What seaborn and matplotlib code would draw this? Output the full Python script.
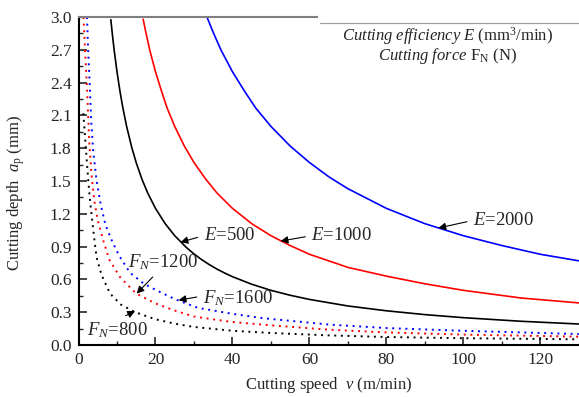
import pandas as pd
import matplotlib.pyplot as plt
import seaborn as sns

# E curves (solid): cutting speed v (m/min) vs cutting depth ap (mm)
v_e500 = [8.4, 8.8, 9.3, 10, 10.8, 11.5, 12.5, 13.8, 15, 16.5, 18, 20, 22.5, 25, 28, 30, 32, 34, 36, 38, 40, 45, 50, 55, 60, 70, 80, 90, 100, 115, 130]
ap_e500 = [2.976, 2.841, 2.688, 2.5, 2.315, 2.174, 2.0, 1.812, 1.667, 1.515, 1.389, 1.25, 1.111, 1.0, 0.893, 0.833, 0.781, 0.735, 0.694, 0.658, 0.625, 0.556, 0.50, 0.455, 0.417, 0.357, 0.313, 0.278, 0.25, 0.217, 0.192]

v_e1000 = [16.8, 17.5, 18.5, 20, 21.5, 23, 25, 27.5, 30, 33, 36, 40, 45, 50, 55, 60, 70, 80, 90, 100, 115, 130]
ap_e1000 = [2.98, 2.86, 2.70, 2.5, 2.33, 2.17, 2.0, 1.82, 1.67, 1.52, 1.39, 1.25, 1.11, 1.0, 0.91, 0.83, 0.71, 0.63, 0.56, 0.50, 0.43, 0.385]

v_e2000 = [33.5, 35, 37, 40, 43, 46, 50, 55, 60, 65, 70, 80, 90, 100, 110, 120, 130]
ap_e2000 = [2.99, 2.86, 2.70, 2.5, 2.33, 2.17, 2.0, 1.82, 1.67, 1.54, 1.43, 1.25, 1.11, 1.0, 0.91, 0.83, 0.77]

# F_N curves (dotted)
v_f800 = [1.25, 1.6, 1.95, 2.5, 3.0, 4, 4.7, 6, 8.2, 11, 14.7, 20, 25, 30, 40, 50, 65, 80, 100, 130]
ap_f800 = [2.12, 1.95, 1.78, 1.52, 1.32, 1.0, 0.8, 0.64, 0.47, 0.37, 0.30, 0.235, 0.195, 0.165, 0.13, 0.11, 0.088, 0.073, 0.062, 0.052]

v_f1200 = [1.3, 1.7, 2.2, 2.8, 3.4, 4.1, 5, 6.4, 8, 10.8, 15, 20, 25, 30, 40, 50, 65, 80, 100, 130]
ap_f1200 = [3.0, 2.7, 2.35, 1.85, 1.55, 1.32, 1.14, 0.96, 0.78, 0.62, 0.47, 0.38, 0.315, 0.26, 0.21, 0.18, 0.14, 0.115, 0.095, 0.076]

v_f1600 = [2.2, 2.5, 2.9, 3.3, 3.8, 4.7, 5.8, 7, 8.6, 10.5, 13.4, 17, 20.3, 25, 31, 40, 48, 65, 80, 100, 130]
ap_f1600 = [3.0, 2.7, 2.4, 2.05, 1.78, 1.5, 1.28, 1.1, 0.96, 0.82, 0.66, 0.56, 0.50, 0.42, 0.34, 0.285, 0.245, 0.187, 0.155, 0.13, 0.10]

sns.set_style("ticks")
plt.rcParams['font.family'] = ['Liberation Serif', 'DejaVu Serif']
plt.rcParams['mathtext.fontset'] = 'custom'
plt.rcParams['mathtext.rm'] = 'Liberation Serif'
plt.rcParams['mathtext.it'] = 'Liberation Serif:italic'

fig = plt.figure(figsize=(5.79, 3.97), dpi=100)
ax = fig.add_axes([0.1356, 0.131, 0.864, 0.826])

dot = (0, (1, 2.4))
curves = [
    (v_e500, ap_e500, 'black', '-'),
    (v_e1000, ap_e1000, 'red', '-'),
    (v_e2000, ap_e2000, 'blue', '-'),
    (v_f800, ap_f800, 'black', dot),
    (v_f1200, ap_f1200, 'red', dot),
    (v_f1600, ap_f1600, 'blue', dot),
]
for v, ap, c, ls in curves:
    df = pd.DataFrame({'v': v, 'ap': ap})
    sns.lineplot(data=df, x='v', y='ap', ax=ax, color=c, linestyle=ls,
                 linewidth=1.2 if ls == '-' else 1.4, sort=False)

ax.set_xlim(0, 130)
ax.set_ylim(0, 3.0)
ax.set_xticks([0, 20, 40, 60, 80, 100, 120])
ax.set_xticks(range(10, 130, 20), minor=True)
ax.set_yticks([i * 0.3 for i in range(11)])
ax.set_yticklabels([f"{i * 0.3:.1f}" for i in range(11)])
ax.set_yticks([0.15 + i * 0.3 for i in range(10)], minor=True)
ax.tick_params(which='major', direction='in', length=6, width=1.2, labelsize=12.5, pad=5)
ax.tick_params(which='minor', direction='in', length=3, width=1.0)
ax.tick_params(axis='y', right=False)
ax.tick_params(axis='x', top=False)

for s in ['left', 'bottom']:
    ax.spines[s].set_linewidth(1.5)
    ax.spines[s].set_color('black')
ax.spines['right'].set_visible(False)
ax.spines['top'].set_color('#808080')
ax.spines['top'].set_linewidth(1.5)
ax.spines['top'].set_bounds(0, 62)

ax.set_xlabel("Cutting speed  $v$ (m/min)", fontsize=12)
ax.set_ylabel("Cutting depth  $a_{\\mathrm{p}}$ (mm)", fontsize=12)
ax.xaxis.set_label_coords(0.5, -0.09)
ax.yaxis.set_label_coords(-0.103, 0.463)

# legend-like header box
ax.plot([0.483, 1.0], [0.982, 0.982], transform=ax.transAxes, color='#a0a0a0', lw=0.9, clip_on=False)
ax.text(0.737, 0.943, "$\\mathit{Cutting\\ efficiency\\ E}$ (mm$^3$/min)", transform=ax.transAxes,
        ha='center', va='center', fontsize=12)
ax.text(0.737, 0.880, "$\\mathit{Cutting\\ force}$ F$_{\\mathrm{N}}$ (N)", transform=ax.transAxes,
        ha='center', va='center', fontsize=12)

arrow = dict(arrowstyle='-|>', color='black', lw=0.8, mutation_scale=11, shrinkA=2, shrinkB=0)
labels = [
    ("$E$=500", (26.5, 0.94), (32.5, 1.0), (0, 0.5)),
    ("$E$=1000", (52.5, 0.95), (60.5, 1.0), (0, 0.5)),
    ("$E$=2000", (93.5, 1.07), (102.5, 1.14), (0, 0.5)),
    ("$F_N$=1200", (15.1, 0.47), (12.9, 0.76), (0.45, 0.1)),
    ("$F_N$=1600", (26.0, 0.41), (32.3, 0.43), (0, 0.6)),
    ("$F_N$=800", (14.7, 0.31), (2.2, 0.137), (0.42, 0.9)),
]
for txt, tip, pos, rel in labels:
    a = dict(arrow)
    a['relpos'] = rel
    ax.annotate(txt, xy=tip, xytext=pos, ha='left', va='center', fontsize=13.5,
                arrowprops=a)

plt.savefig("out.png", dpi=100)
